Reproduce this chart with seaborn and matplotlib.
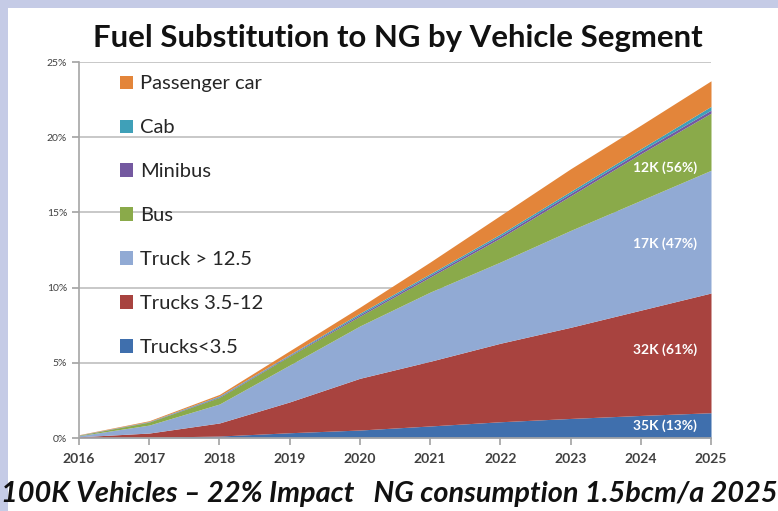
import numpy as np
import pandas as pd
import matplotlib.pyplot as plt
import seaborn as sns
from matplotlib.patches import Rectangle
from matplotlib.ticker import FuncFormatter

# Data (share of fuel substituted, % per segment)
years = [2016, 2017, 2018, 2019, 2020, 2021, 2022, 2023, 2024, 2025]
trucks_lt35 = [0.02, 0.05, 0.13, 0.35, 0.53, 0.80, 1.08, 1.30, 1.50, 1.68]
trucks_35_12 = [0.06, 0.28, 0.87, 2.05, 3.44, 4.30, 5.22, 6.06, 7.00, 7.96]
truck_gt125 = [0.07, 0.53, 1.26, 2.45, 3.48, 4.60, 5.40, 6.44, 7.30, 8.16]
bus = [0.03, 0.20, 0.44, 0.60, 0.65, 1.00, 1.60, 2.30, 3.10, 3.80]
minibus = [0.01, 0.02, 0.05, 0.05, 0.10, 0.12, 0.14, 0.16, 0.18, 0.20]
cab = [0.01, 0.02, 0.05, 0.05, 0.10, 0.10, 0.12, 0.14, 0.16, 0.25]
passenger_car = [0.02, 0.05, 0.10, 0.25, 0.40, 0.78, 1.24, 1.50, 1.56, 1.70]

segments = ["Trucks<3.5", "Trucks 3.5-12", "Truck > 12.5", "Bus", "Minibus", "Cab", "Passenger car"]
colors = ["#3F6FAD", "#A8433F", "#91AAD4", "#8AAA4A", "#7459A0", "#3FA0B8", "#E3853A"]

# Labels at the right end of the bands
band_labels = ["35K (13%)", "32K (61%)", "17K (47%)", "12K (56%)"]
band_label_y = [0.8, 5.85, 12.95, 17.95]

df = pd.DataFrame({"Year": years, "Trucks<3.5": trucks_lt35, "Trucks 3.5-12": trucks_35_12,
                   "Truck > 12.5": truck_gt125, "Bus": bus, "Minibus": minibus,
                   "Cab": cab, "Passenger car": passenger_car})

sns.set_theme(style="white")
plt.rcParams['font.family'] = ['Lato', 'DejaVu Sans']

fig = plt.figure(figsize=(7.78, 5.11), dpi=100, facecolor="white")
# lavender frame strips (left and top)
fig.patches.append(Rectangle((0, 0), 8 / 778, 1, transform=fig.transFigure,
                             facecolor="#C5CBE6", edgecolor="none", zorder=-1))
fig.patches.append(Rectangle((0, 1 - 8 / 511), 1, 8 / 511, transform=fig.transFigure,
                             facecolor="#C5CBE6", edgecolor="none", zorder=-1))
ax = fig.add_axes([79 / 778, 1 - 438 / 511, (711 - 79) / 778, (438 - 62) / 511])
ax.set_facecolor("none")

ax.stackplot(df["Year"], [df[s] for s in segments], colors=colors, labels=segments,
             linewidth=0, zorder=2)

ax.set_xlim(2016, 2025)
ax.set_ylim(0, 25)
ax.set_yticks(range(0, 26, 5))
ax.set_xticks(years)
ax.yaxis.set_major_formatter(FuncFormatter(lambda v, p: f"{v:.0f}%"))
ax.grid(axis="y", color="#BFBFBF", lw=1.2, zorder=1)
ax.set_axisbelow(True)
for s in ["top", "right"]:
    ax.spines[s].set_visible(False)
for s in ["left", "bottom"]:
    ax.spines[s].set_color("#A6A6A6")
    ax.spines[s].set_linewidth(1.2)
ax.tick_params(axis="x", bottom=True, direction="out", length=5, color="#A6A6A6",
               labelsize=10, labelcolor="#404040", pad=6)
ax.tick_params(axis="y", left=True, direction="out", length=5, color="#A6A6A6",
               labelsize=7.5, labelcolor="#404040")
for t in ax.get_xticklabels():
    t.set_fontweight("bold")

for txt, y in zip(band_labels, band_label_y):
    ax.text(2024.8, y, txt, ha="right", va="center", color="white",
            fontsize=10, fontweight="bold", zorder=3)

# legend in reverse order, like the original
h, l = ax.get_legend_handles_labels()
ax.legend(h[::-1], l[::-1], loc="upper left", bbox_to_anchor=(0.052, 0.986), frameon=False,
          borderaxespad=0, fontsize=14.5, labelspacing=1.34, handlelength=0.65,
          handleheight=0.65, handletextpad=0.35, labelcolor="#262626")

fig.text(398 / 778, 1 - 38 / 511, "Fuel Substitution to NG by Vehicle Segment", ha="center",
         va="center", fontsize=22.4, fontweight="bold", color="#111111")
fig.text(0.5, 1 - 494 / 511, "100K Vehicles \u2013 22% Impact   NG consumption 1.5bcm/a 2025",
         ha="center", va="center", fontsize=20.8, fontweight="bold", fontstyle="italic",
         color="#111111")

fig.savefig("out.png", dpi=100, facecolor=fig.get_facecolor())
